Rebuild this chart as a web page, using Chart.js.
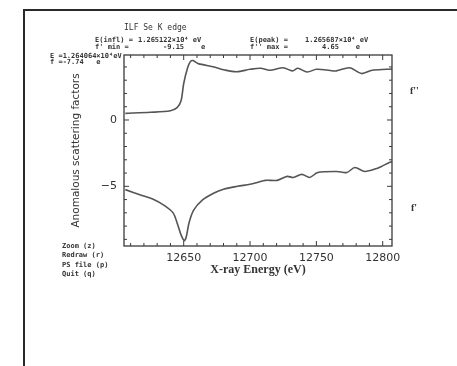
<!DOCTYPE html>
<html>
<head>
<meta charset="utf-8">
<script src="https://cdn.jsdelivr.net/npm/chart.js@4.4.0/dist/chart.umd.min.js"></script>
<style>
  html, body { margin: 0; padding: 0; background: #fff; }
  #wrap { width: 457px; height: 366px; position: relative; }
</style>
</head>
<body>
<div id="wrap"><canvas id="myChart" width="457" height="366"></canvas></div>
<script>
// f'' (absorption-like) curve
const energyFpp = [12606, 12625, 12640, 12645, 12648, 12650, 12653, 12655, 12657, 12661, 12672, 12681, 12690, 12700, 12708, 12715, 12725, 12732, 12736, 12743, 12750, 12758, 12765, 12775, 12784, 12792, 12803, 12807];
const fppValues = [0.5, 0.58, 0.7, 0.93, 1.45, 2.75, 3.95, 4.4, 4.48, 4.25, 4.02, 3.77, 3.64, 3.82, 3.9, 3.75, 3.94, 3.7, 3.9, 3.62, 3.82, 3.77, 3.7, 3.94, 3.5, 3.75, 3.82, 3.84];

// f' curve
const energyFp = [12606, 12618, 12627, 12635, 12642, 12645.5, 12648, 12650.5, 12652, 12654, 12657.5, 12664, 12672.5, 12680, 12690.5, 12700, 12706, 12711.5, 12720.5, 12728, 12732.5, 12739, 12745, 12751, 12765.5, 12773, 12779, 12786.5, 12795.5, 12799, 12805, 12807];
const fpValues = [-5.25, -5.67, -5.97, -6.42, -7.0, -7.9, -8.66, -9.1, -8.78, -7.76, -6.8, -6.04, -5.52, -5.22, -5.0, -4.85, -4.7, -4.55, -4.55, -4.25, -4.33, -4.1, -4.33, -3.96, -3.88, -3.96, -3.58, -3.88, -3.66, -3.5, -3.2, -3.15];

const xTickLabels = [12650, 12700, 12750, 12800];
const yTickLabels = [-5, 0];

const headerLines = [
  { text: 'E(infl) =', x: 95, y: 40 },
  { text: '1.265122\u00d710\u2074 eV', x: 138, y: 40 },
  { text: 'E(peak) =', x: 250, y: 40 },
  { text: '1.265687\u00d710\u2074 eV', x: 305, y: 40 },
  { text: "f' min =", x: 95, y: 47 },
  { text: '-9.15    e', x: 163, y: 47 },
  { text: "f'' max =", x: 250, y: 47 },
  { text: '4.65    e', x: 322, y: 47 },
  { text: 'E =1.264064\u00d710\u2074eV', x: 50, y: 56 },
  { text: "f =-7.74   e", x: 50, y: 62 }
];
const menuLines = ['Zoom (z)', 'Redraw (r)', 'PS file (p)', 'Quit (q)'];

function toPoints(xs, ys) {
  return xs.map((x, i) => ({ x: x, y: ys[i] }));
}

// inward ticks on all four sides, plot frame, page border and text
const decorations = {
  id: 'decorations',
  afterDraw(chart) {
    const ctx = chart.ctx;
    const area = chart.chartArea;
    const xs = chart.scales.x;
    const ys = chart.scales.y;
    ctx.save();
    ctx.strokeStyle = '#3a3a3a';
    ctx.lineWidth = 1.3;
    ctx.strokeRect(area.left, area.top, area.right - area.left, area.bottom - area.top);

    ctx.lineWidth = 1;
    ctx.beginPath();
    for (let e = 12610; e <= 12800; e += 10) {
      const px = xs.getPixelForValue(e);
      const len = e % 50 == 0 ? 5 : 3;
      ctx.moveTo(px, area.bottom); ctx.lineTo(px, area.bottom - len);
      ctx.moveTo(px, area.top); ctx.lineTo(px, area.top + len);
    }
    for (let v = -9; v <= 4; v++) {
      const py = ys.getPixelForValue(v);
      const len = v % 5 == 0 ? 5 : 3;
      ctx.moveTo(area.left, py); ctx.lineTo(area.left + len, py);
      ctx.moveTo(area.right, py); ctx.lineTo(area.right - len, py);
    }
    ctx.stroke();

    // page frame
    ctx.strokeStyle = '#2a2a2a';
    ctx.lineWidth = 2;
    ctx.beginPath();
    ctx.moveTo(24, 366); ctx.lineTo(24, 10); ctx.lineTo(457, 10);
    ctx.stroke();

    ctx.fillStyle = '#333';
    ctx.textBaseline = 'middle';
    ctx.font = '8px "DejaVu Sans Mono"';
    ctx.fillText('ILF Se K edge', 124, 28);
    ctx.font = 'bold 7px "DejaVu Sans Mono"';
    headerLines.forEach(l => ctx.fillText(l.text, l.x, l.y));
    menuLines.forEach((t, i) => ctx.fillText(t, 62, 246 + i * 9.5));

    ctx.font = 'bold 10px "Liberation Serif"';
    ctx.fillText("f''", 410, 91);
    ctx.fillText("f'", 411, 208);
    ctx.restore();
  }
};

let tempChart = new Chart(document.getElementById('myChart').getContext('2d'), {
  type: 'line',
  data: {
    datasets: [{
      label: "f''",
      data: toPoints(energyFpp, fppValues),
      borderColor: '#555555',
      borderWidth: 1.6,
      pointRadius: 0,
      tension: 0.3
    }, {
      label: "f'",
      data: toPoints(energyFp, fpValues),
      borderColor: '#555555',
      borderWidth: 1.6,
      pointRadius: 0,
      tension: 0.3
    }]
  },
  options: {
    responsive: false,
    animation: false,
    layout: { padding: { left: 70, right: 65, top: 55, bottom: 87 } },
    plugins: {
      legend: { display: false },
      tooltip: { enabled: false }
    },
    scales: {
      x: {
        type: 'linear',
        min: 12605,
        max: 12807,
        afterBuildTicks: s => { s.ticks = xTickLabels.map(v => ({ value: v })); },
        afterFit: s => { s.height = 33; },
        grid: { display: false, drawTicks: false },
        border: { display: false },
        ticks: { padding: 6, color: '#333', font: { family: 'DejaVu Sans', size: 11 }, maxRotation: 0, callback: v => String(v) },
        title: {
          display: true,
          text: 'X-ray Energy (eV)',
          color: '#333',
          font: { family: 'Liberation Serif', size: 12, weight: 'bold' },
          padding: { top: 0, bottom: 2 }
        }
      },
      y: {
        min: -9.5,
        max: 4.9,
        afterBuildTicks: s => { s.ticks = yTickLabels.map(v => ({ value: v })); },
        afterFit: s => { s.width = 54; },
        grid: { display: false, drawTicks: false },
        border: { display: false },
        ticks: { padding: 7, color: '#333', font: { family: 'DejaVu Sans', size: 11 }, callback: v => (v < 0 ? '\u2212' + Math.abs(v) : String(v)) },
        title: {
          display: true,
          text: 'Anomalous scattering factors',
          color: '#333',
          font: { family: 'DejaVu Sans', size: 10.5 },
          padding: { top: 0, bottom: 0 }
        }
      }
    }
  },
  plugins: [decorations]
});
</script>
</body>
</html>
